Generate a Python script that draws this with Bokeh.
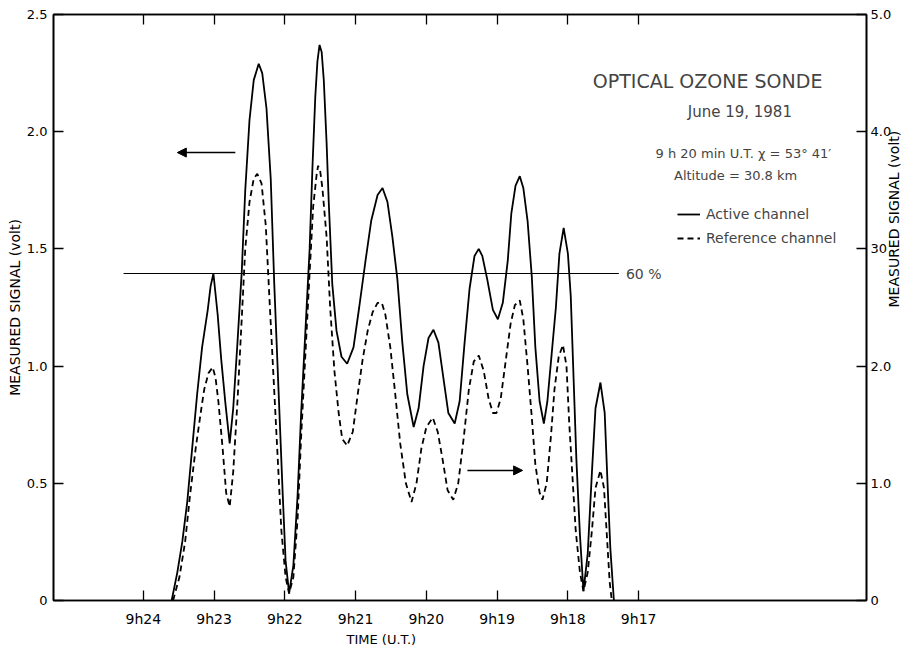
import math
from bokeh.plotting import figure
from bokeh.models import (Range1d, LinearAxis, FixedTicker, Label, Arrow, NormalHead,
                          Legend, LegendItem, Title)
from bokeh.embed import file_html
from bokeh.resources import INLINE

# ---------------- data (time = minutes after 9h, e.g. 23.0 = 9h23) ----------------
active_time = [23.60, 23.52, 23.45, 23.38, 23.31, 23.24, 23.17, 23.09, 23.05, 23.01,
               22.95, 22.90, 22.84, 22.78, 22.73, 22.67, 22.61, 22.56, 22.50, 22.44,
               22.37, 22.32, 22.26, 22.20, 22.15, 22.09, 22.03, 21.99, 21.94, 21.88,
               21.82, 21.77, 21.71, 21.65, 21.61, 21.57, 21.54, 21.51, 21.48, 21.45,
               21.41, 21.38, 21.33, 21.27, 21.20, 21.12, 21.03, 20.95, 20.86, 20.78,
               20.69, 20.62, 20.55, 20.48, 20.41, 20.34, 20.27, 20.18, 20.11, 20.04,
               19.97, 19.90, 19.83, 19.76, 19.69, 19.60, 19.53, 19.46, 19.39, 19.32,
               19.26, 19.21, 19.14, 19.06, 18.99, 18.92, 18.85, 18.80, 18.74, 18.68,
               18.63, 18.57, 18.51, 18.46, 18.40, 18.34, 18.29, 18.23, 18.17, 18.12,
               18.06, 18.00, 17.96, 17.92, 17.88, 17.83, 17.78, 17.72, 17.66, 17.61,
               17.54, 17.48, 17.44, 17.40, 17.35]
active_volt = [0.00, 0.12, 0.25, 0.42, 0.65, 0.88, 1.08, 1.24, 1.34, 1.395,
               1.22, 1.03, 0.84, 0.67, 0.82, 1.10, 1.40, 1.75, 2.05, 2.22,
               2.29, 2.25, 2.10, 1.80, 1.35, 0.90, 0.45, 0.17, 0.03, 0.15,
               0.45, 0.80, 1.15, 1.50, 1.85, 2.15, 2.30, 2.37, 2.34, 2.22,
               1.95, 1.70, 1.35, 1.15, 1.04, 1.01, 1.08, 1.25, 1.45, 1.62,
               1.73, 1.76, 1.70, 1.55, 1.37, 1.10, 0.88, 0.74, 0.82, 1.00,
               1.12, 1.155, 1.10, 0.95, 0.80, 0.755, 0.85, 1.10, 1.33, 1.47,
               1.50, 1.47, 1.37, 1.24, 1.20, 1.27, 1.45, 1.65, 1.77, 1.81,
               1.76, 1.62, 1.38, 1.08, 0.85, 0.755, 0.85, 1.05, 1.25, 1.48,
               1.59, 1.48, 1.30, 0.95, 0.60, 0.28, 0.04, 0.20, 0.55, 0.82,
               0.93, 0.80, 0.50, 0.22, 0.00]

reference_time = [23.58, 23.49, 23.41, 23.34, 23.26, 23.19, 23.14, 23.08, 23.02, 22.98,
                  22.94, 22.88, 22.83, 22.78, 22.73, 22.67, 22.61, 22.56, 22.50, 22.44,
                  22.39, 22.33, 22.27, 22.22, 22.16, 22.10, 22.05, 21.99, 21.94, 21.88,
                  21.82, 21.77, 21.71, 21.65, 21.60, 21.55, 21.53, 21.50, 21.47, 21.41,
                  21.36, 21.30, 21.24, 21.19, 21.12, 21.04, 20.97, 20.90, 20.83, 20.76,
                  20.69, 20.63, 20.58, 20.51, 20.44, 20.37, 20.29, 20.21, 20.14, 20.07,
                  20.00, 19.91, 19.84, 19.77, 19.70, 19.62, 19.55, 19.47, 19.40, 19.33,
                  19.26, 19.19, 19.12, 19.06, 19.01, 18.95, 18.88, 18.81, 18.75, 18.68,
                  18.63, 18.57, 18.51, 18.46, 18.40, 18.36, 18.30, 18.24, 18.19, 18.13,
                  18.07, 18.02, 17.98, 17.93, 17.89, 17.83, 17.78, 17.72, 17.66, 17.61,
                  17.54, 17.49, 17.45, 17.41, 17.38]
reference_volt = [0.00, 0.10, 0.25, 0.45, 0.65, 0.80, 0.90, 0.97, 0.995, 0.95,
                  0.85, 0.65, 0.46, 0.40, 0.55, 0.85, 1.20, 1.50, 1.70, 1.80,
                  1.82, 1.78, 1.60, 1.30, 0.95, 0.60, 0.30, 0.10, 0.03, 0.10,
                  0.35, 0.70, 1.05, 1.40, 1.68, 1.82, 1.855, 1.83, 1.76, 1.55,
                  1.25, 0.98, 0.80, 0.69, 0.66, 0.72, 0.88, 1.03, 1.15, 1.23,
                  1.27, 1.27, 1.22, 1.08, 0.88, 0.67, 0.50, 0.42, 0.50, 0.65,
                  0.74, 0.78, 0.72, 0.60, 0.47, 0.43, 0.50, 0.70, 0.90, 1.02,
                  1.045, 0.98, 0.86, 0.80, 0.80, 0.86, 1.02, 1.18, 1.26, 1.28,
                  1.20, 1.00, 0.78, 0.58, 0.46, 0.43, 0.50, 0.70, 0.90, 1.04,
                  1.09, 1.00, 0.75, 0.50, 0.30, 0.12, 0.04, 0.12, 0.30, 0.48,
                  0.555, 0.48, 0.28, 0.08, 0.00]

time_ticks = [17, 18, 19, 20, 21, 22, 23, 24]
time_tick_labels = ["9h17", "9h18", "9h19", "9h20", "9h21", "9h22", "9h23", "9h24"]
left_ticks = [0, 0.5, 1, 1.5, 2, 2.5]
left_tick_labels = ["0", "0.5", "1.0", "1.5", "2.0", "2.5"]
right_ticks = [0, 1, 2, 3, 4, 5]
right_tick_labels = ["0", "1.0", "2.0", "30", "4.0", "5.0"]

sixty_pct_level = 1.395            # "60 %" level (volt)
sixty_pct_time = [24.28, 17.28]     # extent of the 60 % line

FONT = "DejaVu Sans"

p = figure(width=913, height=646,
           x_range=Range1d(25.27, 13.78), y_range=Range1d(0, 2.5),
           output_backend="svg", toolbar_location=None,
           x_axis_location=None, y_axis_location=None,
           min_border_left=53, min_border_right=47, min_border_top=14, min_border_bottom=46)
p.extra_y_ranges = {"right": Range1d(0, 5.0)}
p.xgrid.visible = False
p.ygrid.visible = False
p.outline_line_color = "black"
p.outline_line_width = 1.6
p.background_fill_color = "white"
p.border_fill_color = "white"


def style_axis(ax, size):
    ax.axis_line_color = "black"
    ax.axis_line_width = 1.6
    ax.major_tick_in = 10
    ax.major_tick_out = 0
    ax.major_tick_line_width = 1.3
    ax.major_tick_line_color = "black"
    ax.minor_tick_line_color = None
    ax.major_label_text_font = FONT
    ax.major_label_text_font_size = size
    ax.major_label_text_color = "black"
    ax.axis_label_text_font = FONT
    ax.axis_label_text_font_style = "normal"
    ax.axis_label_text_color = "black"


xb = LinearAxis(ticker=FixedTicker(ticks=time_ticks),
                major_label_overrides=dict(zip(time_ticks, time_tick_labels)))
style_axis(xb, "14px")
xb.major_label_standoff = 10
p.add_layout(xb, "below")

# top frame edge carries the same (unlabelled) time ticks
xt = LinearAxis(ticker=FixedTicker(ticks=time_ticks),
                major_label_overrides={t: "" for t in time_ticks})
style_axis(xt, "8px")
xt.major_label_standoff = 0
p.add_layout(xt, "above")

yl = LinearAxis(ticker=FixedTicker(ticks=left_ticks),
                major_label_overrides=dict(zip(left_ticks, left_tick_labels)),
                axis_label="MEASURED SIGNAL (volt)")
style_axis(yl, "13px")
yl.major_label_standoff = 6
yl.axis_label_standoff = 1
yl.axis_label_text_font_size = "14px"
p.add_layout(yl, "left")

yr = LinearAxis(y_range_name="right", ticker=FixedTicker(ticks=right_ticks),
                major_label_overrides=dict(zip(right_ticks, right_tick_labels)),
                axis_label="MEASURED SIGNAL (volt)")
style_axis(yr, "13px")
yr.major_label_standoff = 4
yr.axis_label_standoff = 0
yr.axis_label_text_font_size = "14px"
try:
    yr.axis_label_orientation = math.pi / 2
except Exception:
    pass
p.add_layout(yr, "right")

time_title = Title(text="TIME (U.T.)", align="left", offset=293, standoff=0,
                   text_font=FONT, text_font_size="13px", text_font_style="normal",
                   text_color="black")
p.add_layout(time_title, "below")

# curves
r_act = p.line(active_time, active_volt, line_color="black", line_width=1.8)
r_ref = p.line(reference_time, reference_volt, line_color="black", line_width=1.8,
               line_dash="6 4")

# 60 % level line
p.line(sixty_pct_time, [sixty_pct_level, sixty_pct_level], line_color="black", line_width=1.2)
p.add_layout(Label(x=17.18, y=sixty_pct_level, text="60 %", text_font=FONT,
                   text_font_size="14px", text_align="left", text_baseline="middle"))

# arrows (which axis applies)
p.add_layout(Arrow(end=NormalHead(size=9, fill_color="black", line_color="black"),
                   x_start=22.70, y_start=1.911, x_end=23.52, y_end=1.911,
                   line_width=1.5, line_color="black"))
p.add_layout(Arrow(end=NormalHead(size=9, fill_color="black", line_color="black"),
                   x_start=19.42, y_start=0.555, x_end=18.64, y_end=0.555,
                   line_width=1.5, line_color="black"))

# texts
p.add_layout(Label(x=15.94, y=2.218, text="OPTICAL  OZONE  SONDE", text_font=FONT,
                   text_font_size="19px", text_align="center", text_baseline="middle"))
p.add_layout(Label(x=15.57, y=2.086, text="June 19, 1981", text_font=FONT,
                   text_font_size="15px", text_align="center", text_baseline="middle"))
p.add_layout(Label(x=15.49, y=1.907, text="9 h 20 min U.T.  \u03c7 = 53\u00b0 41\u2032", text_font=FONT,
                   text_font_size="13px", text_align="center", text_baseline="middle"))
p.add_layout(Label(x=15.63, y=1.813, text="Altitude = 30.8 km", text_font=FONT,
                   text_font_size="13px", text_align="center", text_baseline="middle"))

legend = Legend(items=[LegendItem(label="Active channel", renderers=[r_act]),
                       LegendItem(label="Reference channel", renderers=[r_ref])],
                location=(624, 352), border_line_color=None, background_fill_alpha=0,
                padding=0, margin=0, spacing=4, glyph_width=23, glyph_height=20,
                label_height=20, label_standoff=6, label_text_font=FONT,
                label_text_font_size="14px")
p.add_layout(legend)

open("out.html", "w").write(file_html(p, INLINE))
